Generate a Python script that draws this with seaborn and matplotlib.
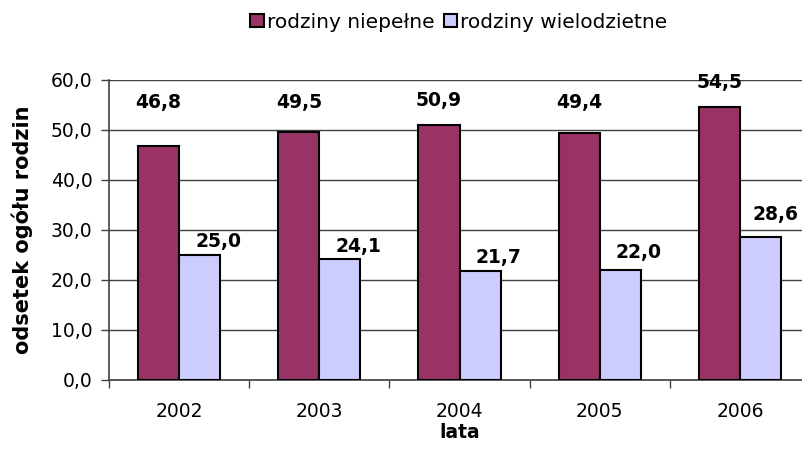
import pandas as pd
import numpy as np
import seaborn as sns
import matplotlib.pyplot as plt
from matplotlib.ticker import FuncFormatter, MultipleLocator

# Data
years = ['2002', '2003', '2004', '2005', '2006']
niepelne = [46.8, 49.5, 50.9, 49.4, 54.5]
wielodzietne = [25.0, 24.1, 21.7, 22.0, 28.6]
series = ['rodziny niepełne', 'rodziny wielodzietne']

df = pd.DataFrame({
    'lata': years * 2,
    'odsetek': niepelne + wielodzietne,
    'typ': [series[0]] * len(years) + [series[1]] * len(years),
})

sns.set_style('white')
plt.rcParams['font.family'] = ['DejaVu Sans']
plt.rcParams['text.color'] = 'black'
plt.rcParams['axes.labelcolor'] = 'black'
plt.rcParams['xtick.color'] = 'black'
plt.rcParams['ytick.color'] = 'black'

fig = plt.figure(figsize=(8.02, 4.62), dpi=100)
ax = fig.add_axes([0.136, 0.1775, 0.874, 0.6495])

palette = {series[0]: '#993366', series[1]: '#CCCCFF'}
sns.barplot(data=df, x='lata', y='odsetek', hue='typ', palette=palette,
            width=0.586, edgecolor='black', linewidth=1.5, ax=ax, zorder=3,
            saturation=1)

ax.set_ylim(0, 60)
ax.set_xlim(-0.5, 4.5)
ax.yaxis.set_major_locator(MultipleLocator(10))
ax.yaxis.set_major_formatter(FuncFormatter(lambda v, p: f'{v:.1f}'.replace('.', ',')))
ax.grid(axis='y', color='#404040', linewidth=1, zorder=0)
ax.grid(axis='x', visible=False)

for s in ['top', 'right']:
    ax.spines[s].set_visible(False)
for s in ['left', 'bottom']:
    ax.spines[s].set_color('#404040')
    ax.spines[s].set_linewidth(1.2)

# category boundary ticks on x axis
ax.set_xticks(np.arange(len(years)))
ax.set_xticklabels(years)
ax.set_xticks(np.arange(len(years) + 1) - 0.5, minor=True)
ax.tick_params(axis='x', which='major', length=0, pad=16, labelsize=13.5)
ax.tick_params(axis='x', which='minor', length=6, color='#404040', width=1, direction='out', bottom=True)
ax.tick_params(axis='y', length=6, color='#404040', width=1, direction='out', left=True,
               labelsize=13.5, pad=6, labelcolor='black')

ax.set_xlabel('lata', fontsize=13.5, fontweight='bold', labelpad=1)
ax.set_ylabel('odsetek ogółu rodzin', fontsize=15, fontweight='bold', labelpad=13)

# value labels (offsets in pixels, as placed in the original)
offsets = [
    [(0, 43), (0, 30), (0, 25), (0, 30), (0, 25)],
    [(19, 13), (19, 13), (18, 14), (18, 17), (15, 22)],
]
for ci, cont in enumerate(ax.containers):
    for bi, bar in enumerate(cont):
        h = bar.get_height()
        dx, dy = offsets[ci][bi]
        ax.annotate(f'{h:.1f}'.replace('.', ','),
                    (bar.get_x() + bar.get_width() / 2, h),
                    xytext=(dx, dy), textcoords='offset pixels',
                    ha='center', va='center', fontsize=13.5, fontweight='bold', zorder=5)

leg = ax.legend(loc='center', bbox_to_anchor=(459 / 802, 1 - 22 / 462),
                bbox_transform=fig.transFigure, ncol=2, frameon=False,
                fontsize=14.5, handlelength=0.65, handleheight=0.65,
                handletextpad=0.15, columnspacing=0.5)
for h in leg.legend_handles:
    h.set_edgecolor('black')
    h.set_linewidth(1.5)

fig.savefig('out.png', dpi=100)
